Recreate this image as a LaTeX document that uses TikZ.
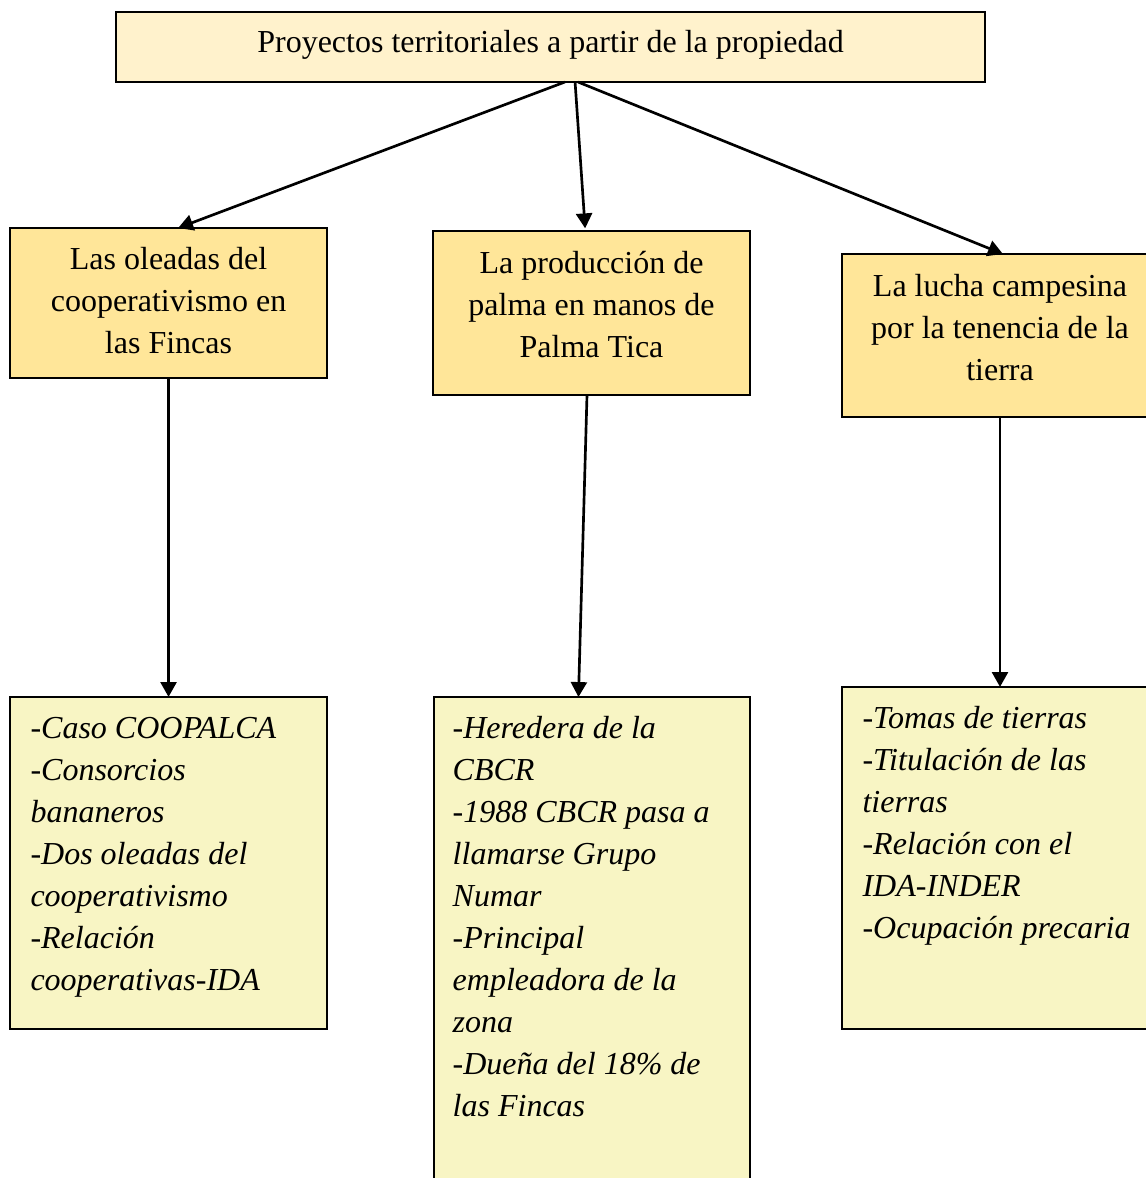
\documentclass[tikz,border=0pt]{standalone}
\usepackage{fontspec}
\setmainfont{Liberation Serif}
\usetikzlibrary{arrows.meta,positioning}
\definecolor{topfill}{HTML}{FFF2CC}
\definecolor{midfill}{HTML}{FFE699}
\definecolor{lowfill}{HTML}{F8F5C4}

\begin{document}
\begin{tikzpicture}[x=0.375pt, y=-0.375pt, >={Triangle[length=5.6pt,width=6pt]},
	   b/.style={draw, line width=.75pt, inner sep=0pt, outer sep=0pt, anchor=north west, align=center,
	     font=\fontsize{12}{15.75}\selectfont},
	   li/.style={inner sep=0pt, align=left, font=\fontsize{12}{15.75}\selectfont\itshape},
	   c/.style={->, line width=1pt}]
	  \useasboundingbox (0,0) rectangle (1146,1178);
	  \clip (0,0) rectangle (1146,1178);
	  % upper row
	  \node[b, fill=topfill, minimum width=325.9pt, minimum height=26.25pt, text depth=4.1pt] (proy) at (116,12) {Proyectos territoriales a partir de la propiedad};
	  \node[b, fill=midfill, minimum width=118.9pt, minimum height=56.25pt, text depth=2.3pt] (olea) at (10,228) {Las oleadas del\\ cooperativismo en\\ las Fincas};
	  \node[b, fill=midfill, minimum width=118.9pt, minimum height=61.5pt, text depth=6.8pt] (palma) at (433,231) {La producción de\\ palma en manos de\\ Palma Tica};
	  \node[b, fill=midfill, minimum width=118.5pt, minimum height=61.1pt, text depth=6pt] (lucha) at (842,254) {La lucha campesina\\ por la tenencia de la\\ tierra};
	  % lower row
	  \node[b, fill=lowfill, minimum width=118.9pt, minimum height=124.5pt, below=119.6pt of olea] (coop) {};
	  \node[b, fill=lowfill, minimum width=118.5pt, minimum height=195pt, below=113.25pt of palma] (numar) {};
	  \node[b, fill=lowfill, minimum width=118.5pt, minimum height=128.25pt, below=101.25pt of lucha] (tomas) {};
	  \node[li, below right=7.5pt and 7.5pt of coop.north west] (coopt) {-Caso COOPALCA\\ -Consorcios\\ bananeros\\ -Dos oleadas del\\ cooperativismo\\ -Relación\\ cooperativas-IDA};
	  \node[li, below right=7.2pt and 7pt of numar.north west] (numart) {-Heredera de la\\ CBCR\\ -1988 CBCR pasa a\\ llamarse Grupo\\ Numar\\ -Principal\\ empleadora de la\\ zona\\ -Dueña del 18\% de\\ las Fincas};
	  \node[li, below right=7.2pt and 7.5pt of tomas.north west] (tomast) {-Tomas de tierras\\ -Titulación de las\\ tierras\\ -Relación con el\\ IDA-INDER\\ -Ocupación precaria};
	  % connectors
	  \draw[c] ([xshift=5.4pt]proy.south) -- ([xshift=3.6pt]olea.north);
	  \draw[c] ([xshift=9.2pt]proy.south) -- ([xshift=-2.4pt,yshift=1pt]palma.north);
	  \draw[c] ([xshift=10.3pt]proy.south) -- ([xshift=1.1pt]lucha.north);
	  \draw[c] (olea) -- (coop);
	  \draw[c] ([xshift=-1.7pt]palma.south) -- ([xshift=-4.9pt]numar.north);
	  \draw[c] (lucha) -- (tomas);
	\end{tikzpicture}
\end{document}
